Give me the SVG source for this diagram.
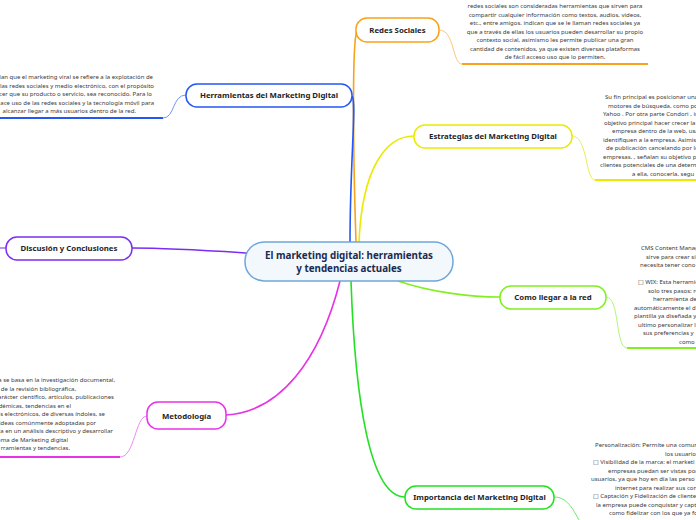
<svg xmlns="http://www.w3.org/2000/svg" width="696" height="520" viewBox="0 0 696 520">
<style>
.t{font-family:"Noto Sans","DejaVu Sans",sans-serif;font-size:6px;fill:#3a3a3a}
.m{text-anchor:middle}
.e{text-anchor:end}
.lbl{font-family:"Noto Sans","DejaVu Sans",sans-serif;font-size:7.8px;font-weight:bold;fill:#1e1e1e;text-anchor:middle}
.ctr{font-family:"Noto Sans","DejaVu Sans",sans-serif;font-size:9.8px;font-weight:bold;fill:#1b2a4e;text-anchor:middle}
.node{fill:#fff;stroke-width:1.5}
.c{fill:none;stroke-width:1.6}
.thin{fill:none;stroke-width:1}
.ul{fill:none;stroke-width:1.8}
</style>
<rect width="696" height="520" fill="#fff"/>
<g id="connectors">
  <path class="c" stroke="#f7a21b" d="M356 242 C353 150 352 40 357 31"/>
  <path class="c" stroke="#2457f5" d="M350 242 C350 160 357 100 352 96"/>
  <path class="c" stroke="#eaea00" d="M359 242 C362 170 385 136 414 136"/>
  <path class="c" stroke="#7b2cf5" d="M247 253 C200 250 170 248 132 248"/>
  <path class="c" stroke="#e633e6" d="M340 281 C320 360 280 412 226 415"/>
  <path class="c" stroke="#80f020" d="M398 281 C430 292 470 297 500 297"/>
  <path class="c" stroke="#22e022" d="M351 281 C355 400 370 497 405 497"/>
  <path class="thin" stroke="#fbc874" d="M439 30 C455 30 452 64 462 64"/>
  <path class="ul" stroke="#f7a21b" d="M462 64 H648"/>
  <path class="thin" stroke="#6f94ff" d="M186 95 C172 95 175 118 163 118"/>
  <path class="ul" stroke="#2457f5" d="M0 118 H163"/>
  <path class="thin" stroke="#eded55" d="M572 136 C588 136 585 180 595 180"/>
  <path class="ul" stroke="#eaea00" d="M595 180 H696"/>
  <path class="thin" stroke="#7b2cf5" d="M0 248 H6"/>
  <path class="thin" stroke="#ef8aef" d="M147 416 C135 416 135 457 120 457"/>
  <path class="ul" stroke="#e633e6" d="M0 457 H120"/>
  <path class="thin" stroke="#b2f57a" d="M606 297 C620 297 615 348 627 348"/>
  <path class="ul" stroke="#80f020" d="M627 348 H696"/>
  <path class="thin" stroke="#6fe86f" d="M554 497 C572 497 576 520 584 526"/>
</g>
<g id="central">
  <rect x="245" y="242" width="208" height="39" rx="19" fill="#f3f8fd" stroke="#6fa6d8" stroke-width="1.5"/>
  <text class="ctr" x="349" y="259">El marketing digital: herramientas</text>
  <text class="ctr" x="349" y="272">y tendencias actuales</text>
</g>
<g id="redes">
  <rect class="node" x="356" y="18" width="83" height="24" rx="11" stroke="#f7a21b"/>
  <text class="lbl" x="397.5" y="32.5">Redes Sociales</text>
  <text class="t m" x="555" y="8">redes sociales son consideradas herramientas que sirven para</text>
  <text class="t m" x="555" y="16.5">compartir cualquier información como textos, audios, videos,</text>
  <text class="t m" x="555" y="25">etc., entre amigos. indican que se le llaman redes sociales ya</text>
  <text class="t m" x="555" y="33.5">que a través de ellas los usuarios pueden desarrollar su propio</text>
  <text class="t m" x="555" y="42">contexto social, asimismo les permite publicar una gran</text>
  <text class="t m" x="555" y="50.5">cantidad de contenidos, ya que existen diversas plataformas</text>
  <text class="t m" x="555" y="59">de fácil acceso uso que lo permiten.</text>
</g>
<g id="herramientas">
  <rect class="node" x="186" y="84" width="166" height="23" rx="11" stroke="#2457f5"/>
  <text class="lbl" x="269" y="98">Herramientas del Marketing Digital</text>
  <text class="t e" x="153" y="79">lan que el marketing viral se refiere a la explotación de</text>
  <text class="t e" x="154" y="87.5">las redes sociales y medio electrónico, con el propósito</text>
  <text class="t e" x="152" y="96">cer que su producto o servicio, sea reconocido. Para lo</text>
  <text class="t e" x="154" y="104.5">ace uso de las redes sociales y la tecnología móvil para</text>
  <text class="t e" x="136" y="113">alcanzar llegar a más usuarios dentro de la red.</text>
</g>
<g id="estrategias">
  <rect class="node" x="414" y="125" width="158" height="23" rx="11" stroke="#eaea00"/>
  <text class="lbl" x="493" y="139">Estrategias del Marketing Digital</text>
  <text class="t" x="605" y="99">Su fin principal es posicionar una</text>
  <text class="t" x="608" y="107.5">motores de búsqueda, como por</text>
  <text class="t" x="603" y="116">Yahoo . Por otra parte Condori , in</text>
  <text class="t" x="604" y="124.5">objetivo principal hacer crecer la</text>
  <text class="t" x="612" y="133">empresa dentro de la web, usa</text>
  <text class="t" x="603" y="141.5">identifiquen a la empresa. Asimis</text>
  <text class="t" x="606" y="150">de publicación cancelando por lo</text>
  <text class="t" x="603" y="158.5">empresas. , señalan su objetivo pr</text>
  <text class="t" x="600" y="167">clientes potenciales de una determ</text>
  <text class="t" x="632" y="175.5">a ella, conocerla, segu</text>
</g>
<g id="discusion">
  <rect class="node" x="6" y="237" width="126" height="23" rx="11" stroke="#7b2cf5"/>
  <text class="lbl" x="69" y="251">Discusión y Conclusiones</text>
</g>
<g id="metodologia">
  <rect class="node" x="147" y="402" width="79" height="27" rx="11" stroke="#e633e6"/>
  <text class="lbl" x="186.5" y="419">Metodología</text>
  <text class="t e" x="115" y="382">a se basa en la investigación documental,</text>
  <text class="t e" x="76" y="390.5">s de la revisión bibliográfica,</text>
  <text class="t e" x="114" y="399">carácter científico, artículos, publicaciones</text>
  <text class="t e" x="71" y="407.5">démicas, tendencias en el</text>
  <text class="t e" x="105" y="416">s electrónicos, de diversas índoles, se</text>
  <text class="t e" x="96" y="424.5">ideas comúnmente adoptadas por</text>
  <text class="t e" x="113" y="433">ra en un análisis descriptivo y desarrollar</text>
  <text class="t e" x="68" y="441.5">ema de Marketing digital</text>
  <text class="t e" x="70" y="450">rramientas y tendencias.</text>
</g>
<g id="como">
  <rect class="node" x="500" y="286" width="106" height="23" rx="11" stroke="#80f020"/>
  <text class="lbl" x="553" y="300">Como llegar a la red</text>
  <text class="t" x="641" y="250">CMS Content Manag</text>
  <text class="t" x="646" y="258.5">sirve para crear si</text>
  <text class="t" x="640" y="267">necesita tener cono</text>
  <text class="t" x="638" y="284">□ WIX: Esta herramie</text>
  <text class="t" x="648" y="292.5">solo tres pasos: reg</text>
  <text class="t" x="653" y="301">herramienta de</text>
  <text class="t" x="634" y="309.5">automáticamente el d</text>
  <text class="t" x="634" y="318">plantilla ya diseñada y</text>
  <text class="t" x="638" y="326.5">ultimo personalizar l</text>
  <text class="t" x="643" y="335">sus preferencias y</text>
  <text class="t" x="679" y="343.5">como</text>
</g>
<g id="importancia">
  <rect class="node" x="405" y="486" width="149" height="23" rx="11" stroke="#22e022"/>
  <text class="lbl" x="479.5" y="500">Importancia del Marketing Digital</text>
  <text class="t" x="595" y="447">Personalización: Permite una comun</text>
  <text class="t" x="665" y="455.5">los usuario</text>
  <text class="t" x="593" y="464">□ Visibilidad de la marca: el marketi</text>
  <text class="t" x="608" y="472.5">empresas puedan ser vistas por</text>
  <text class="t" x="591" y="481">usuarios, ya que hoy en día las perso</text>
  <text class="t" x="615" y="489.5">internet para realizar sus compra</text>
  <text class="t" x="593" y="498">□ Captación y Fidelización de clientes</text>
  <text class="t" x="596" y="506.5">la empresa puede conquistar y capta</text>
  <text class="t" x="609" y="515">como fidelizar con los que ya for</text>
</g>
</svg>
